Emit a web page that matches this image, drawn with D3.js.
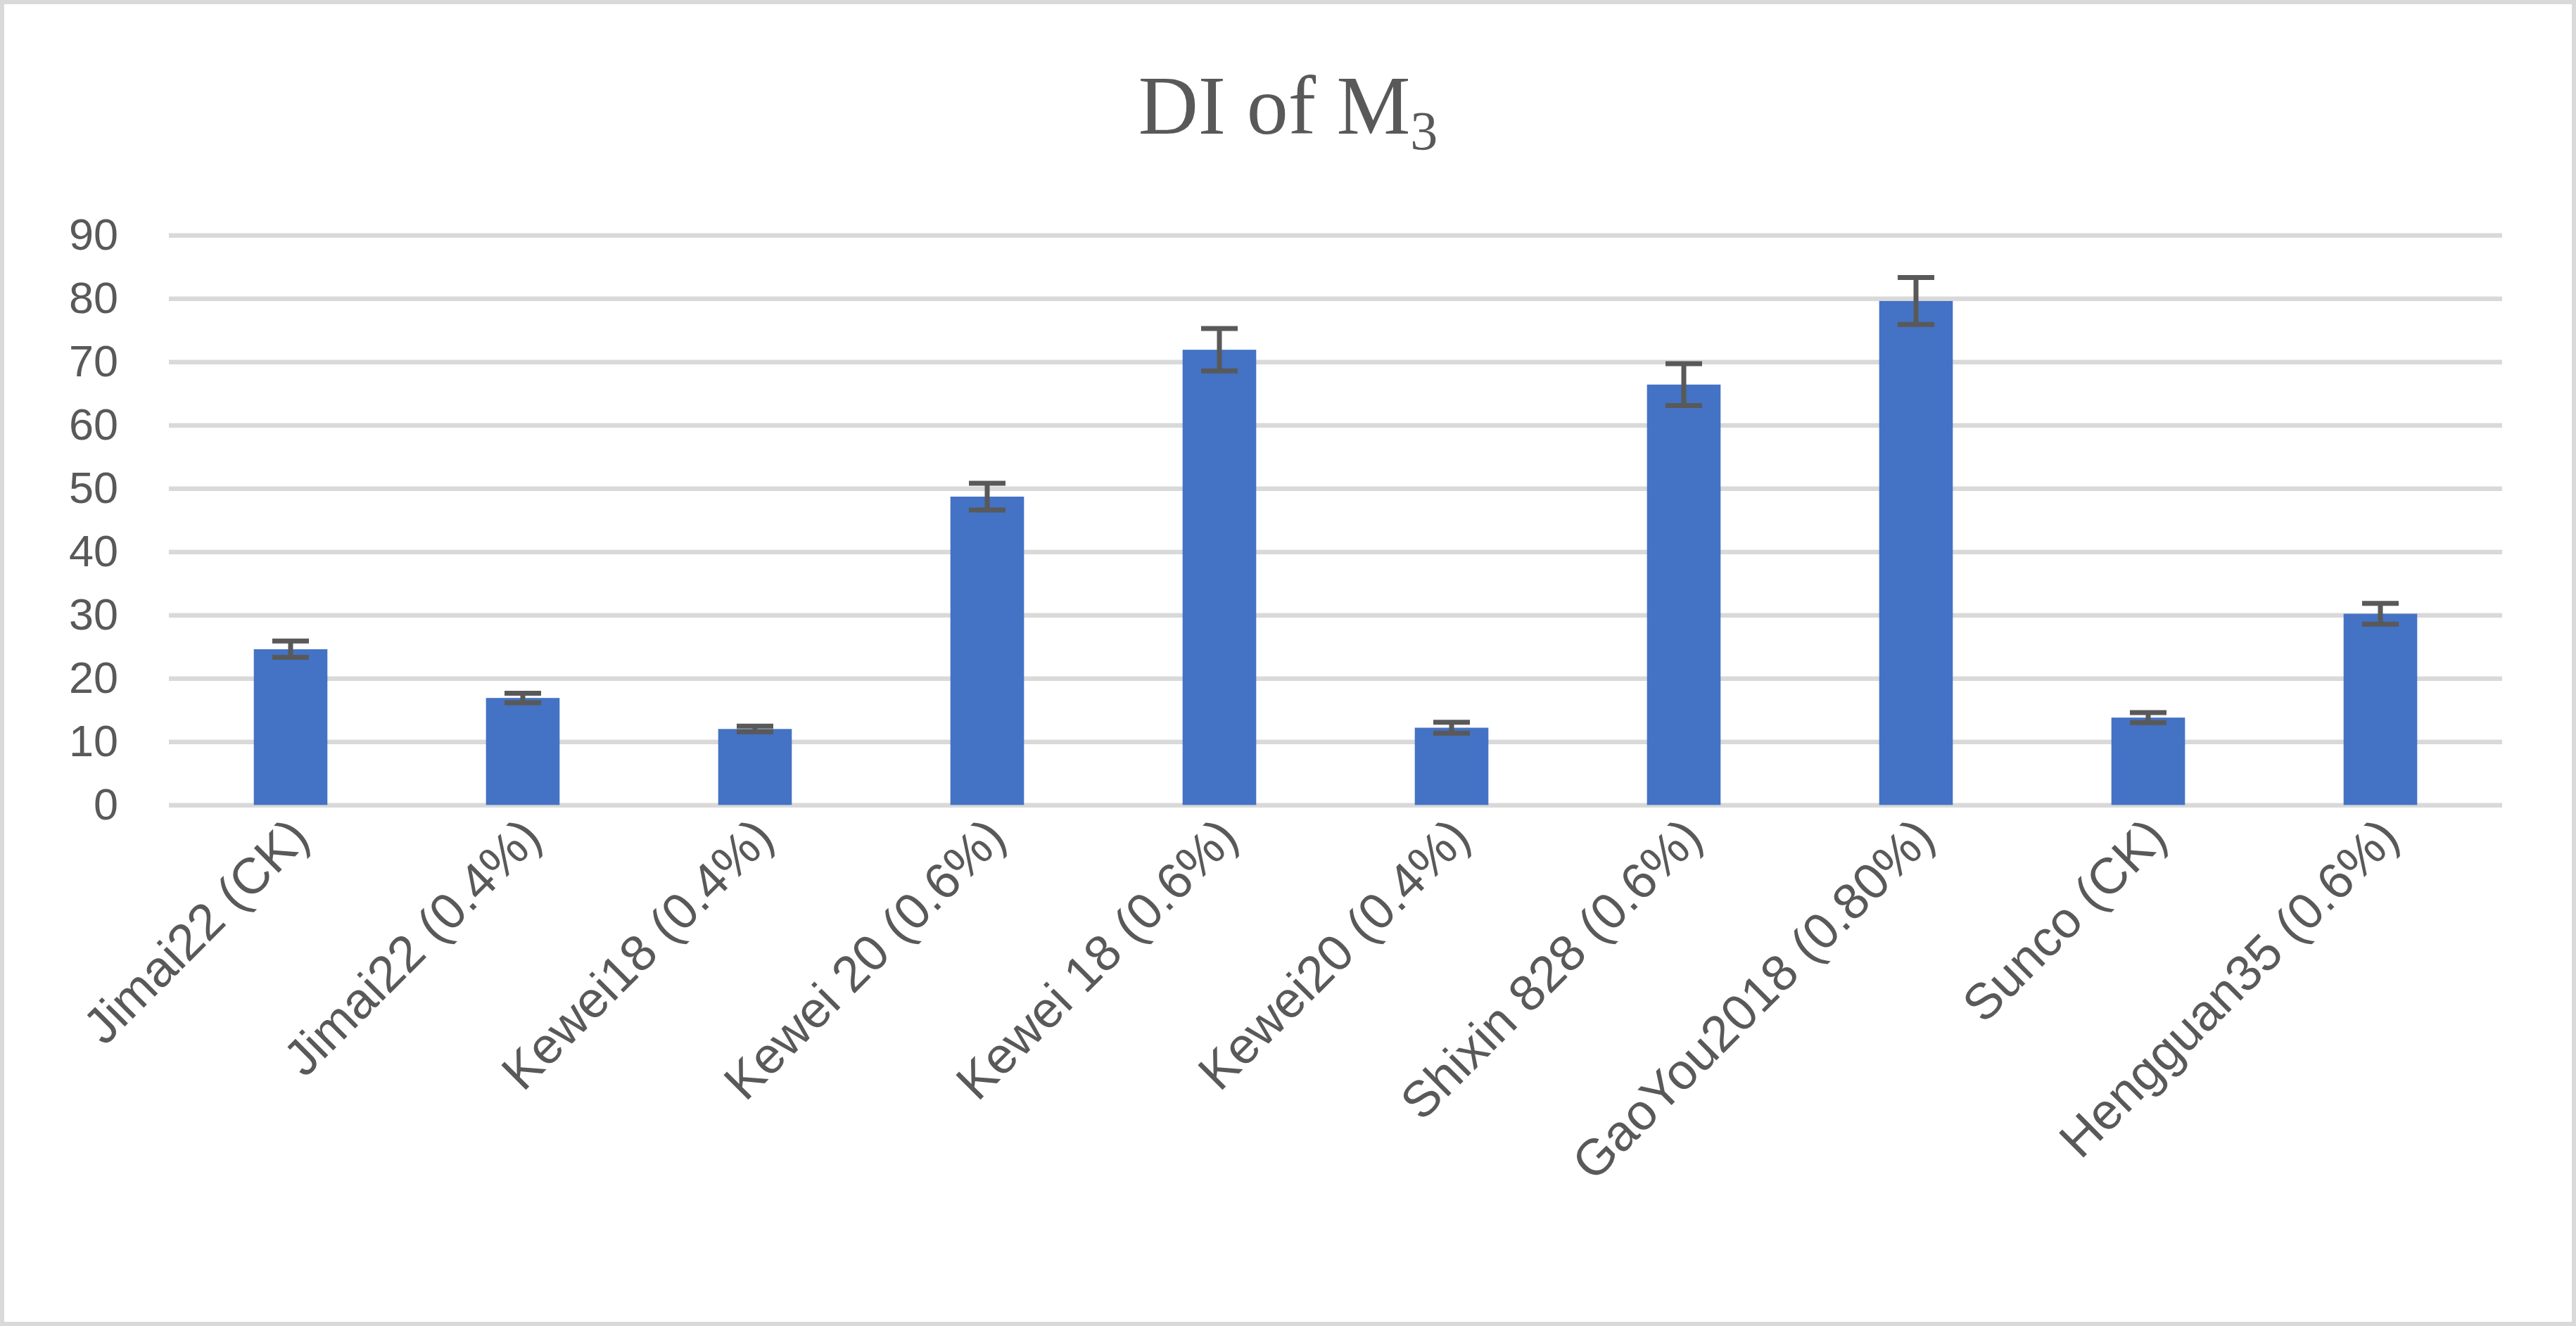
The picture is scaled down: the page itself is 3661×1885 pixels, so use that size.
<!DOCTYPE html>
<html>
<head>
<meta charset="utf-8">
<script src="https://cdn.jsdelivr.net/npm/d3@7"></script>
<style>
  html, body { margin: 0; padding: 0; background: #ffffff; }
  svg { display: block; }
</style>
</head>
<body>
<script>
const categories = ["Jimai22 (CK)", "Jimai22 (0.4%)", "Kewei18 (0.4%)", "Kewei 20 (0.6%)", "Kewei 18 (0.6%)",
                    "Kewei20 (0.4%)", "Shixin 828 (0.6%)", "GaoYou2018 (0.80%)", "Sunco (CK)", "Hengguan35 (0.6%)"];
const values = [24.6, 16.9, 12.0, 48.7, 71.9, 12.2, 66.4, 79.6, 13.8, 30.2];
const errors = [1.3, 0.75, 0.45, 2.1, 3.35, 0.85, 3.3, 3.7, 0.8, 1.65];
const yTicks = [0, 10, 20, 30, 40, 50, 60, 70, 80, 90];

const W = 3661, H = 1885;
const gridLeft = 240, gridRight = 3556;
const y0 = 1144.3, y90 = 334.3;

const svg = d3.select("body").append("svg").attr("width", W).attr("height", H);

svg.append("rect").attr("x", 3).attr("y", 3).attr("width", W - 6).attr("height", H - 6)
  .attr("fill", "#ffffff").attr("stroke", "#d9d9d9").attr("stroke-width", 6);

const x = d3.scaleBand().domain(categories).range([248, 3548]).paddingInner(0.683).paddingOuter(0.3415);
const y = d3.scaleLinear().domain([0, 90]).range([y0, y90]);

const fontSans = "'Liberation Sans', Arial, sans-serif";

// y axis + gridlines
const yAxis = svg.append("g").attr("transform", `translate(${gridLeft},0)`)
  .call(d3.axisLeft(y).tickValues(yTicks).tickSize(-(gridRight - gridLeft)).tickPadding(72).tickFormat(d3.format("d")));
yAxis.select(".domain").remove();
yAxis.selectAll(".tick line").attr("stroke", "#d9d9d9").attr("stroke-width", 6.5);
yAxis.selectAll(".tick text").attr("fill", "#595959").attr("font-family", fontSans).attr("font-size", 63);

// bars
svg.append("g").selectAll("rect").data(categories).join("rect")
  .attr("x", d => x(d)).attr("width", x.bandwidth())
  .attr("y", (d, i) => y(values[i])).attr("height", (d, i) => y(0) - y(values[i]))
  .attr("fill", "#4472c4");

// error bars
const eb = svg.append("g").attr("stroke", "#595959").attr("stroke-width", 7).attr("fill", "none");
const capHalf = 26;
categories.forEach((c, i) => {
  const cx = x(c) + x.bandwidth() / 2;
  const hi = y(values[i] + errors[i]), lo = y(values[i] - errors[i]);
  eb.append("line").attr("x1", cx).attr("x2", cx).attr("y1", hi).attr("y2", lo);
  eb.append("line").attr("x1", cx - capHalf).attr("x2", cx + capHalf).attr("y1", hi).attr("y2", hi);
  eb.append("line").attr("x1", cx - capHalf).attr("x2", cx + capHalf).attr("y1", lo).attr("y2", lo);
});

// x axis labels
const xAxis = svg.append("g").attr("transform", `translate(0,${y0})`)
  .call(d3.axisBottom(x).tickSize(0).tickPadding(0));
xAxis.select(".domain").remove();
xAxis.selectAll(".tick text")
  .attr("fill", "#595959").attr("font-family", fontSans).attr("font-size", 72)
  .attr("text-anchor", "end").attr("dy", null).attr("y", 0)
  .attr("dominant-baseline", "central")
  .attr("transform", "translate(12,32) rotate(-45)");

// title
const title = svg.append("text").attr("x", W / 2).attr("y", 190)
  .attr("text-anchor", "middle").attr("fill", "#595959")
  .attr("font-family", "'Liberation Serif', 'Times New Roman', serif").attr("font-size", 118);
title.append("tspan").text("DI of M");
title.append("tspan").attr("font-size", 78).attr("dy", 22).text("3");
</script>
</body>
</html>
